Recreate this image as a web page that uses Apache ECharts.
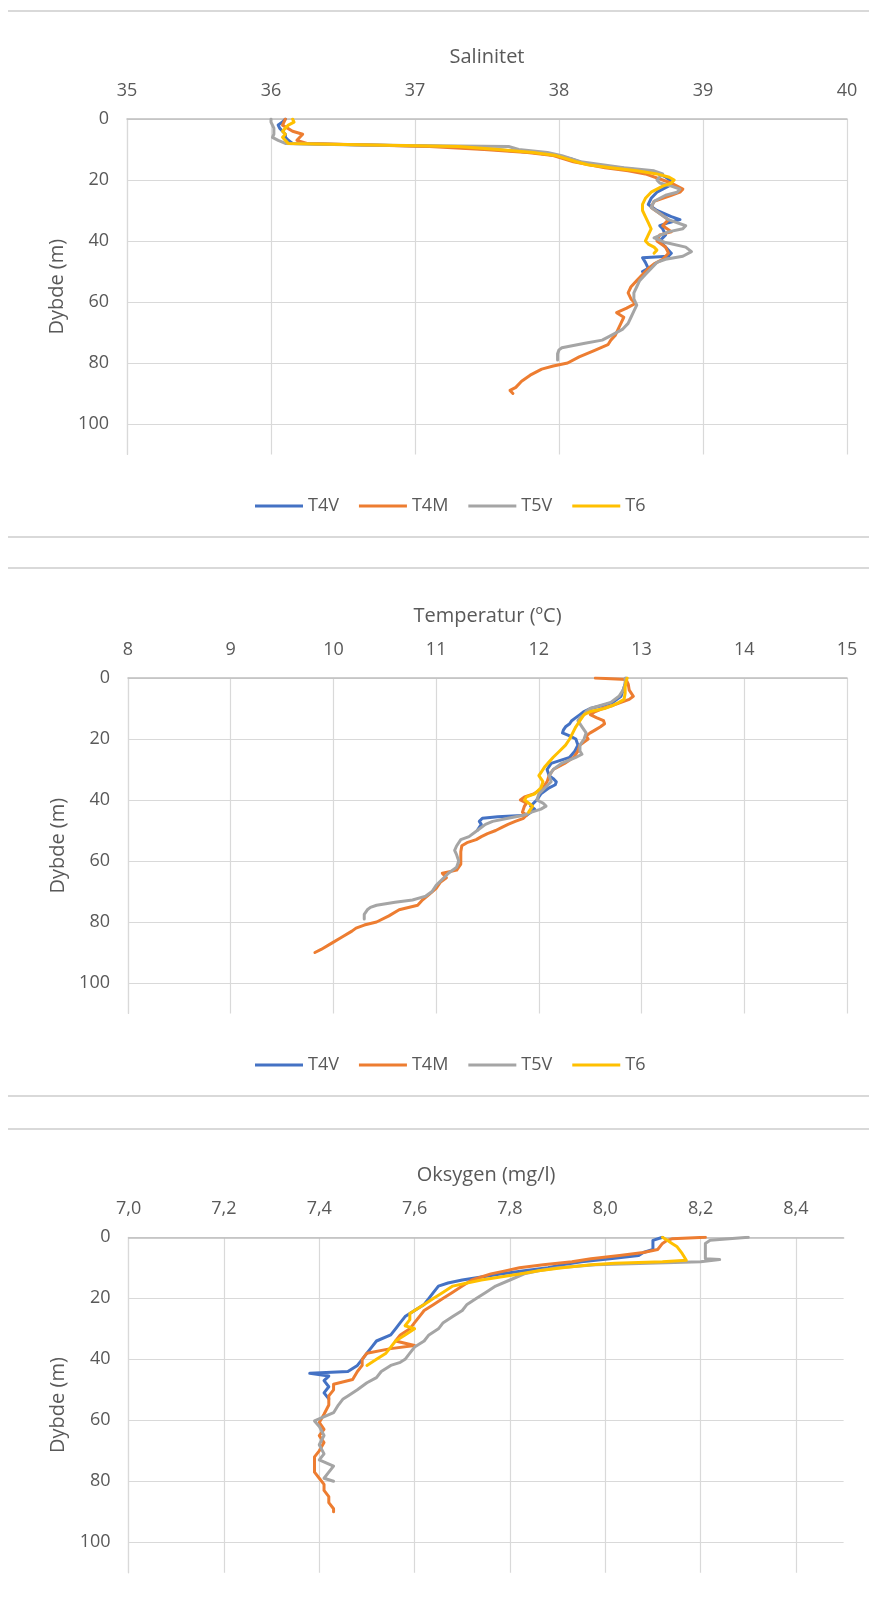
<!DOCTYPE html>
<html>
<head>
<meta charset="utf-8">
<script src="https://cdn.jsdelivr.net/npm/echarts@6/dist/echarts.min.js"></script>
<style>
  html, body { margin: 0; padding: 0; background: #ffffff; }
  #chart { width: 869px; height: 1599px; }
</style>
</head>
<body>
<div id="chart"></div>
<script>
// CTD profiles at four stations: salinity, temperature and dissolved oxygen against depth.

const stations = ['T4V', 'T4M', 'T5V', 'T6'];
const stationColors = ['#4472C4', '#ED7D31', '#A5A5A5', '#FFC000'];

// Depth axis (m, increasing downwards)
const depthTicks = [0, 20, 40, 60, 80, 100];

// ---- Salinitet ----
const salD_T4V = [0,1,2,3,4,5,6,7,8,9,10,11,12,13,14,15,16,17,18,19,20,21,22,23,24,26,28,30,32,33,34,35,36,38,40,42,44,45,45.5,47,49,50];
const salT4V   = [36.10,36.08,36.05,36.06,36.08,36.10,36.10,36.12,36.15,37.20,37.55,37.82,37.98,38.08,38.14,38.22,38.42,38.60,38.69,38.74,38.77,38.78,38.76,38.72,38.68,38.64,38.62,38.68,38.78,38.84,38.76,38.70,38.72,38.74,38.70,38.74,38.78,38.76,38.58,38.60,38.62,38.58];

const salD_T4M = [0,2,4,5,6,7,8,9,10,11,12,14,16,17,18,20,21,22,23,24,25,27,29,31,33,35,37,38,40,42,44,46,47.5,49,51,53,55,57,59,60.5,62,63.5,65,67,69,71,72.5,74,76,78,80,81,82,84,86,88,89,90];
const salT4M   = [36.10,36.08,36.15,36.22,36.20,36.18,36.25,37.10,37.48,37.78,37.96,38.10,38.32,38.48,38.60,38.72,38.78,38.82,38.86,38.84,38.78,38.66,38.64,38.70,38.76,38.72,38.78,38.70,38.68,38.74,38.76,38.72,38.66,38.62,38.58,38.54,38.50,38.48,38.50,38.53,38.47,38.40,38.45,38.43,38.41,38.39,38.36,38.34,38.24,38.14,38.06,37.96,37.88,37.80,37.74,37.70,37.66,37.68];

const salD_T5V = [0,1,3,5,6,7,8,8.5,9,10,11,12,14,16,17,18,19,20,21,22,23,24,25,27,29,31,33,35,36,37,39,40.5,42,43.5,45,46,47,49,51,53,55,57,59,61,63,65,67,69,71,72.5,73.5,75,75.7,77,79];
const salT5V   = [36.00,36.00,36.02,36.02,36.01,36.05,36.10,36.60,37.65,37.72,37.92,38.02,38.15,38.45,38.66,38.72,38.70,38.68,38.70,38.78,38.84,38.82,38.74,38.66,38.64,38.70,38.76,38.88,38.86,38.76,38.66,38.74,38.88,38.92,38.86,38.74,38.68,38.64,38.60,38.56,38.54,38.52,38.52,38.54,38.52,38.50,38.48,38.44,38.36,38.30,38.18,38.02,38.00,37.99,37.99];

const salD_T6  = [0,1,2,3,4,5,6,7,8,9,10,11,12,13,14,15,16,17,18,19,20,21,22,23,24,26,28,30,32,34,36,38,40,41,42,43,44];
const salT6    = [36.15,36.16,36.12,36.10,36.08,36.10,36.08,36.10,36.12,37.30,37.58,37.82,37.98,38.05,38.12,38.20,38.36,38.54,38.68,38.76,38.80,38.78,38.72,38.68,38.64,38.60,38.58,38.58,38.60,38.62,38.64,38.62,38.60,38.62,38.66,38.68,38.66];

// ---- Temperatur (ºC) ----
const tmpD_T4V = [0,2,4,6,8,9,10,11,12,13,14,15,16,17,18,19,20,22,24,26,28,30,32,33,34,35,36,38,40,41,42,43,44,45,45.5,46,47,48,49,50];
const tmpT4V   = [12.85,12.84,12.82,12.80,12.72,12.62,12.50,12.44,12.40,12.36,12.32,12.30,12.26,12.24,12.23,12.30,12.36,12.38,12.35,12.30,12.12,12.08,12.10,12.14,12.17,12.16,12.10,12.02,11.98,11.95,11.92,11.96,11.92,11.88,11.60,11.45,11.42,11.44,11.42,11.40];

const tmpD_T4M = [0,0.5,2,4,6,7,8,9,10,11,12,13,14,15,16,17,18,19,20,21,22,24,26,28,30,32,34,36,38,39,40,41,42,44,45,46,47,48,49,50,51,52,53,54,55,57,59,61,63,64,65.5,67,69,71,73,74.5,76,78,80,81,82,83,85,87,89,90];
const tmpT4M   = [12.55,12.85,12.87,12.88,12.92,12.88,12.80,12.72,12.62,12.55,12.50,12.56,12.63,12.64,12.60,12.55,12.50,12.46,12.48,12.44,12.40,12.38,12.34,12.25,12.14,12.10,12.08,12.04,11.95,11.86,11.82,11.88,11.86,11.84,11.88,11.85,11.77,11.70,11.64,11.58,11.50,11.44,11.39,11.30,11.25,11.24,11.24,11.24,11.20,11.06,11.10,11.04,11.00,10.93,10.86,10.82,10.64,10.54,10.42,10.30,10.22,10.18,10.08,9.98,9.88,9.82];

const tmpD_T5V = [0,2,4,6,8,9,10,11,12,13,14,16,18,20,22,24,25,26,28,30,32,34,36,38,40,41,42,43,44,45,46,47,48,50,52,53,55,56.5,58,60,62,64,66,68,70,71.5,72.8,73.5,74.5,75.2,76,77.5,79];
const tmpT5V   = [12.84,12.84,12.82,12.78,12.70,12.60,12.50,12.46,12.44,12.40,12.38,12.42,12.46,12.44,12.40,12.40,12.42,12.36,12.22,12.14,12.10,12.12,12.06,12.00,11.98,12.04,12.07,12.02,11.93,11.85,11.70,11.55,11.48,11.40,11.32,11.24,11.20,11.18,11.20,11.22,11.20,11.12,11.06,11.00,10.96,10.90,10.77,10.60,10.42,10.36,10.33,10.30,10.30];

const tmpD_T6  = [0,1,3,5,7,8,9,10,11,12,13,14,16,18,20,22,24,26,27.5,29,31,32,34,36,38,39,40,41,42,43,44];
const tmpT6    = [12.86,12.85,12.84,12.84,12.83,12.78,12.72,12.64,12.50,12.44,12.42,12.40,12.36,12.33,12.30,12.26,12.20,12.14,12.10,12.06,12.02,12.00,12.04,12.02,11.96,11.88,11.86,11.90,11.94,11.92,11.90];

// ---- Oksygen (mg/l) ----
const oxyD_T4V = [0,1,2,4,5,6,7,8,9,10,11,12,13,14,15,16,18,20,22,24,26,28,30,32,34,36,38,40,42,43,44,44.6,45.5,46,47,49,51,53];
const oxyT4V   = [8.12,8.10,8.10,8.10,8.08,8.07,8.01,7.95,7.91,7.88,7.83,7.78,7.74,7.70,7.67,7.65,7.64,7.63,7.62,7.60,7.58,7.57,7.56,7.55,7.52,7.51,7.50,7.49,7.48,7.47,7.46,7.38,7.42,7.42,7.41,7.42,7.41,7.42];

const oxyD_T4M = [0,0.5,1,2,4,5,6,7,8,9,10,11,12,13,14,16,18,20,22,24,26,28,30,32,34,35.5,36.5,38,40,42,44,46.6,48.2,50,52,55,58,60.7,63,65,67.3,70,72,75,77,79,81,83,85,87,89,90];
const oxyT4M   = [8.21,8.14,8.13,8.12,8.11,8.08,8.03,7.97,7.93,7.87,7.82,7.79,7.76,7.74,7.72,7.70,7.68,7.66,7.64,7.62,7.61,7.60,7.59,7.57,7.56,7.60,7.55,7.50,7.49,7.49,7.48,7.47,7.43,7.43,7.42,7.42,7.41,7.40,7.41,7.40,7.41,7.40,7.39,7.39,7.39,7.40,7.41,7.41,7.42,7.42,7.43,7.43];

const oxyD_T5V = [0,0.5,1,2,4,6,7,7.3,8,9,10,11,12,14,16,18,20,22,24,26,28,30,32,34,36,38,40,41,42,44,46,47.7,50,52,53,55,57.5,60.2,62,65,68,71,73,75,77,79,80];
const oxyT5V   = [8.30,8.30,8.22,8.21,8.21,8.21,8.21,8.24,8.20,7.98,7.90,7.86,7.83,7.80,7.77,7.75,7.73,7.71,7.70,7.68,7.66,7.65,7.63,7.62,7.60,7.59,7.58,7.57,7.55,7.53,7.52,7.50,7.48,7.46,7.45,7.44,7.43,7.39,7.40,7.41,7.40,7.41,7.40,7.43,7.42,7.41,7.43];

const oxyD_T6  = [0,1,2,3,5,7.5,8,8.5,9,10,11,12,13,14,15,16,18,20,22,24,25,27,29,30,32,34,36,38,40,42];
const oxyT6    = [8.12,8.13,8.14,8.15,8.16,8.17,8.12,8.02,7.97,7.91,7.86,7.82,7.78,7.74,7.71,7.68,7.66,7.64,7.62,7.60,7.59,7.59,7.58,7.60,7.58,7.56,7.55,7.54,7.52,7.50];

// Tick labels of the three top axes
const salTicks = [35, 36, 37, 38, 39, 40];
const tmpTicks = [8, 9, 10, 11, 12, 13, 14, 15];
const oxyTicks = ['7,0', '7,2', '7,4', '7,6', '7,8', '8,0', '8,2', '8,4'];

function zip(values, depths) {
  if (values.length !== depths.length) {
    throw new Error('length mismatch: ' + values.length + ' vs ' + depths.length);
  }
  return values.map((v, i) => [v, depths[i]]);
}

const FONT = '"Open Sans", "Noto Sans", sans-serif';
const TXT = '#595959';
const GRIDC = '#d9d9d9';
const PLOT_H = 335.5;

const panels = [
  {
    title: 'Salinitet', min: 35, max: 40, interval: 1,
    left: 127, top: 119, width: 720, showMax: true,
    fmt: v => String(v),
    profiles: [zip(salT4V, salD_T4V), zip(salT4M, salD_T4M), zip(salT5V, salD_T5V), zip(salT6, salD_T6)]
  },
  {
    title: 'Temperatur (ºC)', min: 8, max: 15, interval: 1,
    left: 128, top: 678, width: 719, showMax: true,
    fmt: v => String(v),
    profiles: [zip(tmpT4V, tmpD_T4V), zip(tmpT4M, tmpD_T4M), zip(tmpT5V, tmpD_T5V), zip(tmpT6, tmpD_T6)]
  },
  {
    title: 'Oksygen (mg/l)', min: 7.0, max: 8.5, interval: 0.2,
    left: 128.6, top: 1237.3, width: 715, showMax: false,
    fmt: v => Number(v).toFixed(1).replace('.', ','),
    profiles: [zip(oxyT4V, oxyD_T4V), zip(oxyT4M, oxyD_T4M), zip(oxyT5V, oxyD_T5V), zip(oxyT6, oxyD_T6)]
  }
];

const grids = panels.map(p => ({ left: p.left, top: p.top, width: p.width, height: PLOT_H }));

const xAxes = panels.map((p, i) => ({
  type: 'value',
  gridIndex: i,
  position: 'top',
  min: p.min, max: p.max, interval: p.interval,
  name: p.title,
  nameLocation: 'middle',
  nameGap: 52,
  nameTextStyle: { fontFamily: FONT, fontSize: 20, color: TXT },
  axisLine: { show: true, onZero: false, lineStyle: { color: '#bfbfbf', width: 1.5 } },
  axisTick: { show: false },
  axisLabel: {
    margin: 19, fontFamily: FONT, fontSize: 18, color: TXT,
    showMinLabel: true, showMaxLabel: p.showMax, formatter: p.fmt
  },
  splitLine: { show: true, showMaxLine: p.showMax, lineStyle: { color: GRIDC, width: 1.2 } }
}));

const yAxes = panels.map((p, i) => ({
  type: 'value',
  gridIndex: i,
  inverse: true,
  min: 0, max: 110, interval: 20,
  name: 'Dybde (m)',
  nameLocation: 'middle',
  nameGap: 60,
  nameTextStyle: { fontFamily: FONT, fontSize: 20, color: TXT },
  axisLine: { show: true, lineStyle: { color: GRIDC, width: 1.2 } },
  axisTick: { show: false },
  axisLabel: {
    margin: 18, fontFamily: FONT, fontSize: 18, color: TXT,
    showMaxLabel: false,
    formatter: v => depthTicks.indexOf(v) >= 0 ? String(v) : ''
  },
  splitLine: { show: true, showMaxLine: false, lineStyle: { color: GRIDC, width: 1.2 } }
}));

const series = [];
panels.forEach((p, i) => {
  p.profiles.forEach((data, k) => {
    series.push({
      type: 'line',
      name: stations[k],
      xAxisIndex: i,
      yAxisIndex: i,
      data: data,
      symbol: 'none',
      showSymbol: false,
      clip: true,
      lineStyle: { width: 3, color: stationColors[k], cap: 'round', join: 'round' },
      itemStyle: { color: stationColors[k] },
      emphasis: { disabled: true },
      z: 2 + k
    });
  });
});

const legendBase = {
  data: stations,
  orient: 'horizontal',
  left: 250,
  icon: 'rect',
  itemWidth: 48,
  itemHeight: 3,
  itemGap: 20,
  textStyle: { fontFamily: FONT, fontSize: 18, color: TXT }
};

// Panel frames
const frameYs = [11, 537, 568, 1096, 1129];
const frames = frameYs.map(y => ({
  type: 'line',
  silent: true,
  shape: { x1: 8, y1: y, x2: 869, y2: y },
  style: { stroke: '#d9d9d9', lineWidth: 2 }
}));

const chart = echarts.init(document.getElementById('chart'), null, { renderer: 'canvas' });
chart.setOption({
  backgroundColor: '#ffffff',
  animation: false,
  color: stationColors,
  grid: grids,
  xAxis: xAxes,
  yAxis: yAxes,
  legend: [
    Object.assign({}, legendBase, { top: 492 }),
    Object.assign({}, legendBase, { top: 1051 })
  ],
  graphic: frames,
  series: series
});
</script>
</body>
</html>
